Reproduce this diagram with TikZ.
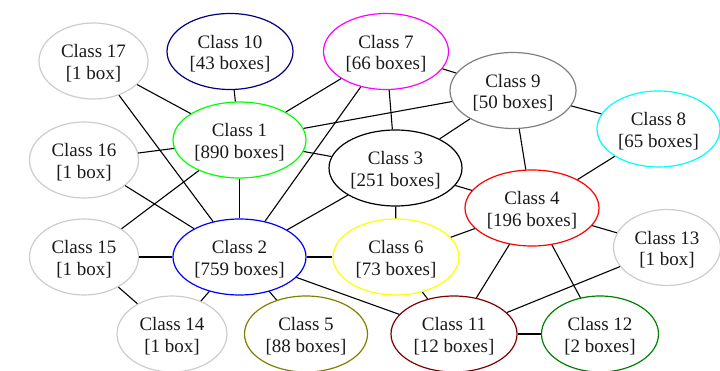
\documentclass[tikz,border=0pt]{standalone}
\usepackage{fontspec}
\setmainfont{Liberation Serif}
\usetikzlibrary{shapes.geometric}
\definecolor{lgray}{HTML}{CCCCCC}
\definecolor{mgray}{HTML}{808080}
\definecolor{navyc}{HTML}{000080}
\definecolor{limec}{HTML}{00FF00}
\definecolor{olivec}{HTML}{808000}
\definecolor{maroonc}{HTML}{800000}
\definecolor{darkgreenc}{HTML}{008000}
\definecolor{cyanc}{HTML}{00FFFF}
\definecolor{magentac}{HTML}{FF00FF}
\definecolor{yellowc}{HTML}{FFFF00}
\definecolor{redc}{HTML}{FF0000}
\definecolor{bluec}{HTML}{0000FF}
\definecolor{textc}{HTML}{1A1A1A}
% two-line label: class name over its box count
\newcommand{\clslabel}[2]{\rule{0pt}{18pt}#1\\{}[#2]}
\begin{document}
\begin{tikzpicture}[x=1pt,y=-1pt,
  cls/.style={ellipse, draw, line width=1.2pt, inner sep=0pt,
    minimum height=76pt, align=center, text=textc,
    font=\fontsize{19}{21.5}\selectfont},
  link/.style={line width=1.1pt, black}]
\useasboundingbox (0,0) rectangle (720,371);
% classes
\node[cls, draw=lgray, minimum width=109pt] (c17) at (93.5,61) {\clslabel{Class 17}{1 box}};
\node[cls, draw=navyc, minimum width=126pt] (c10) at (230,51.5) {\clslabel{Class 10}{43 boxes}};
\node[cls, draw=magentac, minimum width=125pt] (c7) at (386,51.5) {\clslabel{Class 7}{66 boxes}};
\node[cls, draw=mgray, minimum width=126pt] (c9) at (513,90.5) {\clslabel{Class 9}{50 boxes}};
\node[cls, draw=cyanc, minimum width=123pt] (c8) at (658.5,129) {\clslabel{Class 8}{65 boxes}};
\node[cls, draw=limec, minimum width=133pt] (c1) at (239.5,140) {\clslabel{Class 1}{890 boxes}};
\node[cls, draw=lgray, minimum width=109pt] (c16) at (84,160) {\clslabel{Class 16}{1 box}};
\node[cls, draw=black, minimum width=133pt] (c3) at (395.5,168) {\clslabel{Class 3}{251 boxes}};
\node[cls, draw=redc, minimum width=134pt] (c4) at (532,208) {\clslabel{Class 4}{196 boxes}};
\node[cls, draw=lgray, minimum width=107pt] (c13) at (667,247.5) {\clslabel{Class 13}{1 box}};
\node[cls, draw=lgray, minimum width=109pt] (c15) at (84,257) {\clslabel{Class 15}{1 box}};
\node[cls, draw=bluec, minimum width=133pt] (c2) at (239.5,257) {\clslabel{Class 2}{759 boxes}};
\node[cls, draw=yellowc, minimum width=126pt] (c6) at (396,257) {\clslabel{Class 6}{73 boxes}};
\node[cls, draw=lgray, minimum width=110pt] (c14) at (172,334) {\clslabel{Class 14}{1 box}};
\node[cls, draw=olivec, minimum width=123pt] (c5) at (306,334) {\clslabel{Class 5}{88 boxes}};
\node[cls, draw=maroonc, minimum width=126pt] (c11) at (454,334) {\clslabel{Class 11}{12 boxes}};
\node[cls, draw=darkgreenc, minimum width=117pt] (c12) at (600,334) {\clslabel{Class 12}{2 boxes}};
% links
\foreach \a/\b in {c17/c1, c17/c2, c10/c1, c7/c1, c7/c2, c7/c3, c7/c9,
  c9/c1, c9/c3, c9/c4, c9/c8, c8/c4, c16/c1, c16/c2, c15/c1, c15/c2,
  c15/c14, c1/c2, c1/c3, c3/c2, c3/c6, c3/c4, c4/c6, c4/c11, c4/c12,
  c4/c13, c13/c11, c2/c6, c2/c14, c2/c5, c2/c11, c6/c11, c11/c12}
  \draw[link] (\a) -- (\b);
\end{tikzpicture}
\end{document}
